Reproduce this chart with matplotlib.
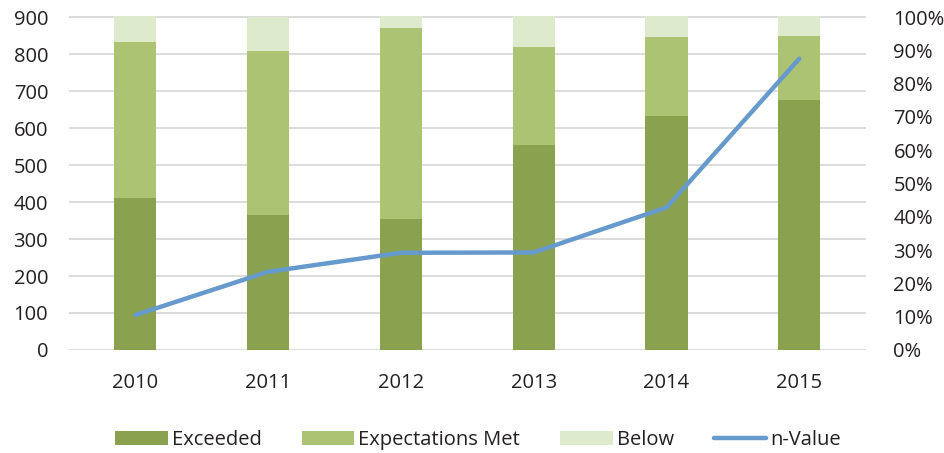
import numpy as np
import matplotlib
matplotlib.use("Agg")
import matplotlib.pyplot as plt
from matplotlib.ticker import FuncFormatter

# Dados
years = ["2010", "2011", "2012", "2013", "2014", "2015"]
exceeded = [411, 365, 354, 554, 632, 676]
expectations_met = [421, 443, 516, 265, 214, 173]
below = [71, 91, 33, 84, 57, 54]
n_value = [0.105, 0.235, 0.292, 0.293, 0.428, 0.875]

left_ticks = [0, 100, 200, 300, 400, 500, 600, 700, 800, 900]
right_ticks = [0.0, 0.1, 0.2, 0.3, 0.4, 0.5, 0.6, 0.7, 0.8, 0.9, 1.0]

plt.rcParams["font.family"] = ["Open Sans", "DejaVu Sans"]
text_color = "#231F20"
fs = 14.5

fig = plt.figure(figsize=(9.45, 4.53), dpi=100)
ax = fig.add_axes([0.073, 0.2274, 0.843, 0.739])

x = np.arange(len(years))
w = 0.317
ex = np.array(exceeded)
me = np.array(expectations_met)
be = np.array(below)

b1 = ax.bar(x, ex, w, color="#8AA24F", label="Exceeded", zorder=2)
b2 = ax.bar(x, me, w, bottom=ex, color="#ABC372", label="Expectations Met", zorder=2)
b3 = ax.bar(x, be, w, bottom=ex + me, color="#DDEACC", label="Below", zorder=2)

ymax = 905
ax.set_ylim(0, ymax)
ax.set_xlim(-0.5, 5.5)
ax.set_yticks(left_ticks)
ax.set_xticks(x)
ax.set_xticklabels(years)
ax.grid(axis="y", color="#D9D9D9", linewidth=1.3, zorder=0)
ax.set_axisbelow(True)
for s in ax.spines.values():
    s.set_visible(False)
ax.tick_params(axis="both", length=0, labelsize=fs, colors=text_color)
ax.tick_params(axis="y", pad=15)
ax.tick_params(axis="x", pad=16.5)

ax2 = ax.twinx()
ax2.set_ylim(0, ymax / 900)
ax2.set_yticks(right_ticks)
ax2.yaxis.set_major_formatter(FuncFormatter(lambda v, p: f"{v*100:.0f}%"))
for s in ax2.spines.values():
    s.set_visible(False)
ax2.tick_params(axis="y", length=0, labelsize=fs, colors=text_color, pad=20)
l1, = ax2.plot(x, n_value, color="#6699CC", linewidth=3.2, label="n-Value",
               solid_capstyle="round", solid_joinstyle="round", zorder=3)

handles = [b1, b2, b3, l1]
labels = ["Exceeded", "Expectations Met", "Below", "n-Value"]
leg = fig.legend(handles, labels, loc="center", bbox_to_anchor=(0.506, 0.029),
                 ncol=4, frameon=False, fontsize=fs, handlelength=2.6,
                 handleheight=0.65, handletextpad=0.2, columnspacing=2.0,
                 labelcolor=text_color, borderpad=0, borderaxespad=0)

fig.savefig("out.png", dpi=100)
